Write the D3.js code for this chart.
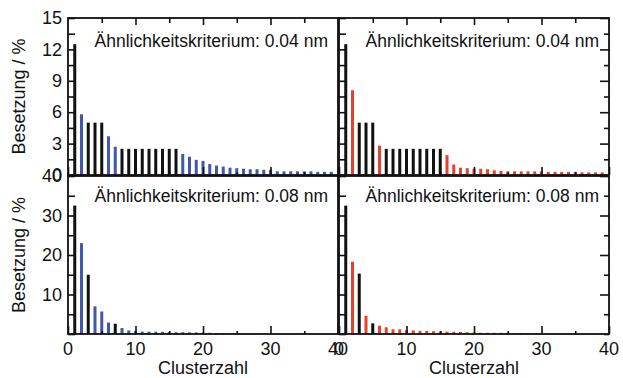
<!DOCTYPE html>
<html lang="de">
<head>
<meta charset="UTF-8">
<title>Besetzung / Clusterzahl</title>
<script src="https://d3js.org/d3.v7.min.js"></script>
<style>
  body { margin: 0; background: #fff; }
  svg text { font-family: "Liberation Sans", Arial, sans-serif; fill: #111; }
  .axis path { display: none; }
  .axis line { stroke: #111; stroke-width: 1.6; }
</style>
</head>
<body>
<div id="chart"></div>
<script>
    // Clusterzahl 1..39
    var clusters = [1, 2, 3, 4, 5, 6, 7, 8, 9, 10, 11, 12, 13, 14, 15, 16, 17, 18, 19, 20,
        21, 22, 23, 24, 25, 26, 27, 28, 29, 30, 31, 32, 33, 34, 35, 36, 37, 38, 39];

    // Besetzung in %, one value per cluster
    var topLeftValues = [12.5, 5.8, 5.0, 5.0, 5.0, 3.7, 2.7, 2.5, 2.5, 2.5, 2.5, 2.5, 2.5, 2.5, 2.5, 2.5,
        2.0, 1.75, 1.45, 1.35, 1.05, 0.9, 0.8, 0.7, 0.65, 0.6, 0.55, 0.55, 0.5, 0.5,
        0.35, 0.35, 0.35, 0.35, 0.35, 0.35, 0.3, 0.3, 0.3];
    var topRightValues = [12.5, 8.1, 5.0, 5.0, 5.0, 2.8, 2.5, 2.5, 2.5, 2.5, 2.5, 2.5, 2.5, 2.5, 2.5,
        1.9, 1.0, 0.7, 0.65, 0.6, 0.6, 0.55, 0.45, 0.4, 0.35, 0.35, 0.35, 0.35, 0.35, 0.35,
        0.3, 0.3, 0.3, 0.3, 0.3, 0.25, 0.25, 0.25, 0.25];
    var bottomLeftValues = [32.5, 23, 15, 7.0, 5.7, 2.9, 2.6, 1.5, 0.9, 0.8, 0.6, 0.6, 0.55, 0.55, 0.5,
        0.45, 0.45, 0.4, 0.4, 0.35, 0.3, 0.25, 0.15, 0.15, 0.1, 0.1, 0.1, 0.1, 0.1, 0.1,
        0.05, 0.05, 0.05, 0.05, 0.05, 0.05, 0.05, 0.05, 0.05];
    var bottomRightValues = [32.5, 18.3, 15.3, 4.6, 2.7, 2.1, 1.7, 1.2, 1.2, 1.0, 0.9, 0.8, 0.75, 0.7, 0.65,
        0.6, 0.55, 0.5, 0.45, 0.35, 0.3, 0.3, 0.3, 0.3, 0.3, 0.25, 0.25, 0.2, 0.2, 0.2,
        0.15, 0.15, 0.1, 0.1, 0.1, 0.05, 0.05, 0.05, 0.05];

    // clusters drawn in black
    var topLeftBlack = [1, 3, 4, 5, 8, 9, 10, 11, 12, 13, 14, 15, 16];
    var topRightBlack = [1, 3, 4, 5, 7, 8, 9, 10, 11, 12, 13, 14, 15];
    var bottomLeftBlack = [1, 3, 7];
    var bottomRightBlack = [1, 3, 5];

    var titles = ["Ähnlichkeitskriterium: 0.04 nm", "Ähnlichkeitskriterium: 0.08 nm"];
    var topTicks = [0, 3, 6, 9, 12, 15];
    var topMinorTicks = [1.5, 4.5, 7.5, 10.5, 13.5];
    var bottomTicks = [10, 20, 30, 40];
    var bottomMinorTicks = [0, 5, 15, 25, 35];
    var xTicks = [0, 10, 20, 30, 40];
    var xMinorTicks = [5, 15, 25, 35];

    var blue = "#4258aa", red = "#e6412d", black = "#111";

    var svg = d3.select("#chart").append("svg")
        .attr("width", 623)
        .attr("height", 378);

    var xLeft = d3.scaleLinear().domain([0, 40]).range([68, 338]);
    var xRight = d3.scaleLinear().domain([0, 40]).range([339, 609]);
    var yTop = d3.scaleLinear().domain([0, 15]).range([175, 18]);
    var yBottom = d3.scaleLinear().domain([0, 40]).range([334, 176]);

    var panels = [
        { x: xLeft, y: yTop, values: topLeftValues, black: topLeftBlack, colour: blue, title: titles[0], side: "left", row: "top" },
        { x: xRight, y: yTop, values: topRightValues, black: topRightBlack, colour: red, title: titles[0], side: "right", row: "top" },
        { x: xLeft, y: yBottom, values: bottomLeftValues, black: bottomLeftBlack, colour: blue, title: titles[1], side: "left", row: "bottom" },
        { x: xRight, y: yBottom, values: bottomRightValues, black: bottomRightBlack, colour: red, title: titles[1], side: "right", row: "bottom" }
    ];

    function ticks(g, axis) {
        g.append("g").attr("class", "axis").call(axis.tickSizeOuter(0).tickFormat(function () { return ""; }));
    }

    panels.forEach(function (p) {
        var x0 = p.x.range()[0], x1 = p.x.range()[1];
        var y0 = p.y.range()[0], y1 = p.y.range()[1];
        var g = svg.append("g");
        var major = p.row === "top" ? topTicks : bottomTicks;
        var minor = p.row === "top" ? topMinorTicks : bottomMinorTicks;

        // bars
        g.append("g").selectAll("rect")
            .data(clusters.map(function (c, i) { return { c: c, v: p.values[i] }; }))
            .enter().append("rect")
            .attr("x", function (d) { return p.x(d.c) - 1.5; })
            .attr("width", 3)
            .attr("y", function (d) { return p.y(d.v); })
            .attr("height", function (d) { return p.y(0) - p.y(d.v); })
            .attr("fill", function (d) { return p.black.indexOf(d.c) >= 0 ? black : p.colour; });

        // left axis (inward ticks)
        var left = g.append("g").attr("transform", "translate(" + x0 + ",0)");
        ticks(left, d3.axisLeft(p.y).tickValues(major).tickSizeInner(-7));
        ticks(left, d3.axisLeft(p.y).tickValues(minor).tickSizeInner(-7));

        // right axis
        if (p.side === "right") {
            var right = g.append("g").attr("transform", "translate(" + x1 + ",0)");
            ticks(right, d3.axisRight(p.y).tickValues(major).tickSizeInner(-9));
            ticks(right, d3.axisRight(p.y).tickValues(minor).tickSizeInner(-5));
        }

        // top axis
        if (p.row === "top") {
            var top = g.append("g").attr("transform", "translate(0," + y1 + ")");
            ticks(top, d3.axisTop(p.x).tickValues([10, 20, 30]).tickSizeInner(-7));
            ticks(top, d3.axisTop(p.x).tickValues(xMinorTicks).tickSizeInner(-5));
        }

        // bottom axis
        var bottom = g.append("g").attr("transform", "translate(0," + y0 + ")");
        ticks(bottom, d3.axisBottom(p.x).tickValues(xTicks).tickSizeInner(-8));
        ticks(bottom, d3.axisBottom(p.x).tickValues(xMinorTicks).tickSizeInner(-3));

        // tick labels
        if (p.side === "left") {
            g.append("g").selectAll("text")
                .data(major)
                .enter().append("text")
                .attr("x", x0 - 6)
                .attr("y", function (d) { return p.y(d); })
                .attr("dy", "0.34em")
                .attr("text-anchor", "end")
                .attr("font-size", 18)
                .text(function (d) { return String(d); });
        }
        if (p.row === "bottom") {
            g.append("g").selectAll("text")
                .data(xTicks)
                .enter().append("text")
                .attr("x", function (d) { return p.x(d); })
                .attr("y", 355)
                .attr("text-anchor", "middle")
                .attr("font-size", 18)
                .text(function (d) { return String(d); });
        }

        // frame
        g.append("rect")
            .attr("x", x0).attr("y", y1)
            .attr("width", x1 - x0).attr("height", y0 - y1)
            .attr("fill", "none").attr("stroke", black).attr("stroke-width", 1.8);

        // criterion label
        g.append("text")
            .attr("x", x1 - 10)
            .attr("y", y1 + (p.row === "top" ? 29 : 26))
            .attr("text-anchor", "end")
            .attr("font-size", 17.5)
            .text(p.title);

        if (p.row === "bottom") {
            g.append("text")
                .attr("x", (x0 + x1) / 2)
                .attr("y", 374)
                .attr("text-anchor", "middle")
                .attr("font-size", 18)
                .text("Clusterzahl");
        }
        if (p.side === "left") {
            g.append("text")
                .attr("transform", "translate(25," + ((y0 + y1) / 2) + ") rotate(-90)")
                .attr("text-anchor", "middle")
                .attr("font-size", 18)
                .text("Besetzung / %");
        }
    });
</script>
</body>
</html>
